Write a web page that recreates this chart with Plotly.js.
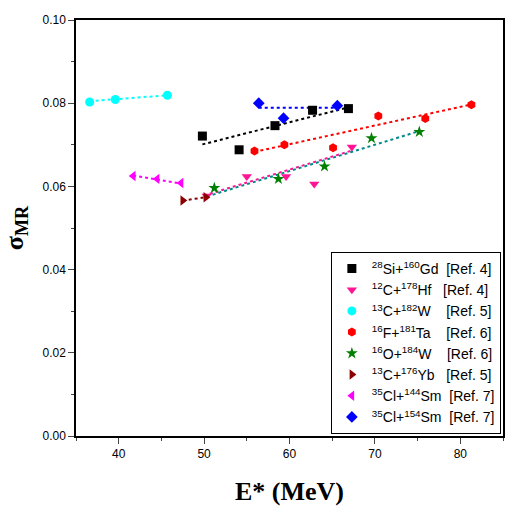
<!DOCTYPE html>
<html><head><script src="https://cdn.plot.ly/plotly-3.0.1.min.js"></script>
<style>body{margin:0}</style></head><body>
<div id="plot" style="width:506px;height:506px"></div>
<script>
// data
var siX = [49.8, 54.1, 58.3, 62.7, 66.9], siY = [0.0721, 0.0688, 0.0746, 0.0783, 0.0787];
var cHfX = [50.3, 55.0, 59.6, 62.9, 67.3], cHfY = [0.0577, 0.0624, 0.0624, 0.0606, 0.0695];
var cWX = [36.6, 39.6, 45.7], cWY = [0.0803, 0.0809, 0.0819];
var fTaX = [55.9, 59.4, 65.1, 70.4, 75.9, 81.3], fTaY = [0.0685, 0.0700, 0.0693, 0.0769, 0.0763, 0.0796];
var oWX = [51.2, 58.7, 64.1, 69.6, 75.2], oWY = [0.0596, 0.0618, 0.0648, 0.0716, 0.0731];
var cYbX = [47.5, 50.2], cYbY = [0.0566, 0.0574];
var cl144X = [41.7, 44.5, 47.3], cl144Y = [0.0625, 0.0618, 0.0608];
var cl154X = [56.4, 59.3, 65.6], cl154Y = [0.0800, 0.0764, 0.0794];
var fits = [
  {x: [49.8, 66.9], y: [0.0701, 0.0790], c: 'black'},
  {x: [50.0, 67.3], y: [0.0578, 0.0686], c: '#ff1493'},
  {x: [36.6, 45.7], y: [0.0805, 0.0819], c: 'cyan'},
  {x: [55.9, 81.3], y: [0.0683, 0.0797], c: 'red'},
  {x: [51.0, 75.2], y: [0.0580, 0.0733], c: '#008b8b'},
  {x: [47.5, 50.2], y: [0.0566, 0.0574], c: '#8b0000'},
  {x: [41.7, 47.3], y: [0.0626, 0.0607], c: 'magenta'},
  {x: [56.4, 65.6], y: [0.0789, 0.0789], c: 'blue'}
];
var series = [
  [siX, siY, 'square', 'black', '<sup>28</sup>Si+<sup>160</sup>Gd  [Ref. 4]'],
  [cHfX, cHfY, 'triangle-down', '#ff1493', '<sup>12</sup>C+<sup>178</sup>Hf   [Ref. 4]'],
  [cWX, cWY, 'circle', 'cyan', '<sup>13</sup>C+<sup>182</sup>W    [Ref. 5]'],
  [fTaX, fTaY, 'hexagon', 'red', '<sup>16</sup>F+<sup>181</sup>Ta    [Ref. 6]'],
  [oWX, oWY, 'star', 'green', '<sup>16</sup>O+<sup>184</sup>W    [Ref. 6]'],
  [cYbX, cYbY, 'triangle-right', '#8b0000', '<sup>13</sup>C+<sup>176</sup>Yb   [Ref. 5]'],
  [cl144X, cl144Y, 'triangle-left', 'magenta', '<sup>35</sup>Cl+<sup>144</sup>Sm  [Ref. 7]'],
  [cl154X, cl154Y, 'diamond', 'blue', '<sup>35</sup>Cl+<sup>154</sup>Sm  [Ref. 7]']
];
var data = [];
fits.forEach(function(f){
  data.push({x: f.x, y: f.y, mode: 'lines', showlegend: false, hoverinfo: 'skip',
    line: {color: f.c, dash: 'dot', width: 2}});
});
series.forEach(function(s){
  data.push({x: s[0], y: s[1], mode: 'markers', name: s[4],
    marker: {symbol: s[2], color: s[3], size: 9}});
});
var layout = {
  margin: {l: 76, r: 3, t: 20, b: 70},
  paper_bgcolor: 'white', plot_bgcolor: 'white',
  font: {family: 'Liberation Sans, Arial', size: 12, color: 'black'},
  xaxis: {range: [35, 85], dtick: 10, ticks: 'outside', ticklen: 6, showgrid: false,
    zeroline: false, showline: true, linewidth: 1.5, linecolor: 'black', mirror: true,
    minor: {dtick: 5, ticks: 'outside', ticklen: 3},
    title: {text: '<b>E* (MeV)</b>', font: {family: 'Liberation Serif, Times New Roman', size: 26}}},
  yaxis: {range: [0, 0.1], dtick: 0.02, tickformat: '.2f', ticks: 'outside', ticklen: 6,
    showgrid: false, zeroline: false, showline: true, linewidth: 1.5, linecolor: 'black',
    mirror: true, minor: {dtick: 0.01, ticks: 'outside', ticklen: 3},
    title: {text: '<b>σ<sub>MR</sub></b>', font: {family: 'Liberation Serif, Times New Roman', size: 26}}},
  legend: {x: 0.995, y: 0.005, xanchor: 'right', yanchor: 'bottom', bordercolor: 'black',
    borderwidth: 1, bgcolor: 'white', font: {size: 14}, tracegroupgap: 0}
};
Plotly.newPlot('plot', data, layout, {displayModeBar: false});
</script></body></html>
